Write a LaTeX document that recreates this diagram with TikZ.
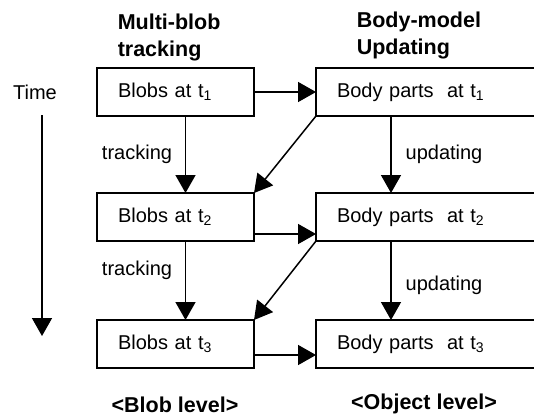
\documentclass[tikz,border=0pt]{standalone}
\usepackage{fontspec}
\setmainfont{Liberation Sans}
\usetikzlibrary{arrows.meta}
\tikzset{
  blobbox/.style={draw, line width=1.5pt, outer sep=0pt, anchor=west,
    minimum height=48pt, inner xsep=21pt, align=left,
    font=\fontsize{20}{23}\selectfont},
  lbox/.style={blobbox, minimum width=157pt, text width=115pt},
  rbox/.style={blobbox, minimum width=240pt, text width=198pt},
  lbl/.style={inner sep=0pt, font=\fontsize{20}{23}\selectfont},
  head/.style={inner sep=0pt, align=left, anchor=north west,
    font=\fontsize{21.5}{27}\selectfont\bfseries},
}
\begin{document}
\begin{tikzpicture}[x=1pt,y=-1pt,>={Triangle[length=18pt,width=20pt]},line width=1.5pt]
\useasboundingbox (0,0) rectangle (534,418);
\clip (0,0) rectangle (534,418);
% headers
    \node[head] (h1) at (117,13) {Multi-blob\\tracking};
    \node[head] (h2) at (356,11) {Body-model\\Updating};
% boxes
    \node[lbox] (b1) at (97,92)  {Blobs at t\textsubscript{1}};
    \node[lbox] (b2) at (97,217) {Blobs at t\textsubscript{2}};
    \node[lbox] (b3) at (97,344) {Blobs at t\textsubscript{3}};
    \node[rbox] (r1) at (316,92)  {Body parts\ \ at t\textsubscript{1}};
    \node[rbox] (r2) at (316,217) {Body parts\ \ at t\textsubscript{2}};
    \node[rbox] (r3) at (316,344) {Body parts\ \ at t\textsubscript{3}};
% time axis
    \node[lbl] (time) at (35,92) {Time};
    \coordinate (t0) at (42,115);
    \coordinate (t1) at (42,336);
    \draw[->] (t0) -- (t1);
% arrows
    \draw[->] (b1.east) -- (r1.west);
    \draw[->] ([yshift=7pt]b2.south east) -- ([yshift=7pt]r2.south west);
    \draw[->] ([yshift=13pt]b3.south east) -- ([yshift=13pt]r3.south west);
    \draw[->] ([xshift=10pt]b1.south) -- ([xshift=10pt]b2.north);
    \draw[->] ([xshift=10pt]b2.south) -- ([xshift=10pt]b3.north);
    \draw[->] ([xshift=75pt]r1.south west) -- ([xshift=75pt]r2.north west);
    \draw[->] ([xshift=75pt]r2.south west) -- ([xshift=75pt]r3.north west);
    \draw[->] (r1.south west) -- (b2.north east);
    \draw[->] (r2.south west) -- (b3.north east);
% labels
    \node[lbl] (tr1) at (137,154) {tracking};
    \node[lbl] (tr2) at (137,270) {tracking};
    \node[lbl] (up1) at (444,154) {updating};
    \node[lbl] (up2) at (444,285) {updating};
    \node[head,anchor=center] (lv1) at (175,405) {<Blob level>};
    \node[head,anchor=center] (lv2) at (424,404) {<Object level>};
\end{tikzpicture}
\end{document}
